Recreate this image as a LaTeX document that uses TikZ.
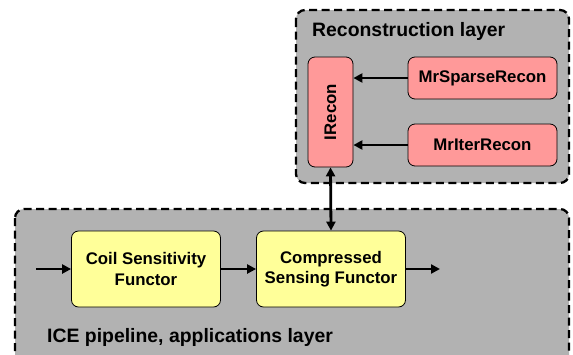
\documentclass[tikz,border=0pt]{standalone}
\usepackage{fontspec}
\setmainfont{Liberation Sans}
\usetikzlibrary{calc, positioning}
\usetikzlibrary{arrows.meta}

\definecolor{layergray}{RGB}{178,178,178}
\definecolor{reconpink}{RGB}{255,153,153}
\definecolor{functoryellow}{RGB}{255,255,153}

\begin{document}
\begin{tikzpicture}[x=1pt,y=-1pt,
    layer/.style={draw=black,line width=2.3pt,dash pattern=on 8pt off 4.5pt,
        fill=layergray,rounded corners=9pt},
    layertitle/.style={anchor=west,inner sep=0pt,font=\fontsize{19.4}{22}\selectfont\bfseries},
    box/.style={draw=black,line width=0.8pt,rounded corners=7pt,align=center,
        inner sep=0pt,font=\fontsize{16.8}{20.5}\selectfont\bfseries},
    reconbox/.style={box,fill=reconpink},
    functorbox/.style={box,fill=functoryellow},
    flow/.style={line width=2.8pt,-{Triangle[length=9pt,width=9pt]}}]
\useasboundingbox (0,0) rectangle (573,354);

% layers
\draw[layer] (296,10) rectangle (569,183);
\node[layertitle] (recontitle) at (312,31) {Reconstruction layer};
\draw[layer] (15,209) rectangle (569,380);
\node[layertitle] (icetitle) at (47,337) {ICE pipeline, applications layer};

% reconstruction layer
\node[reconbox,minimum width=45,minimum height=110] (irecon) at (330.5,112)
    {\rotatebox{90}{IRecon}};
\node[reconbox,minimum width=149,minimum height=42] (sparse) at (482.5,78)
    {MrSparseRecon};
\node[reconbox,minimum width=149,minimum height=42] (iter) at (482.5,145)
    {MrIterRecon};

\draw[flow] (sparse.west) -- (irecon.east |- sparse.west);
\draw[flow] (iter.west) -- (irecon.east |- iter.west);

% pipeline
\node[functorbox,minimum width=149,minimum height=76] (coil) at (146,269)
    {Coil Sensitivity\\Functor};
\node[functorbox,minimum width=149,minimum height=76] (cs) at (331,269)
    {Compressed\\Sensing Functor};

\coordinate (in) at (36,269);
\coordinate (out) at (440,269);
\draw[flow] (in) -- (coil.west);
\draw[flow] (coil.east) -- (cs.west);
\draw[flow] (cs.east) -- (out);
\draw[flow,{Triangle[length=9pt,width=9pt]}-{Triangle[length=9pt,width=9pt]}]
    (irecon.south) -- (cs.north);
\end{tikzpicture}
\end{document}
